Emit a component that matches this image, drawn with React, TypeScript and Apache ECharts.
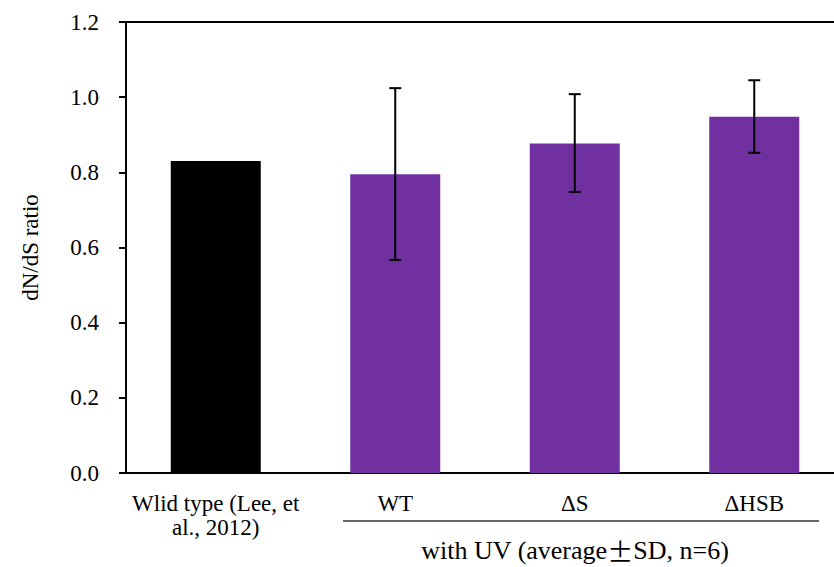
import React, { useEffect, useRef } from "react";
import * as echarts from "echarts";

const categories = ["Wlid type (Lee, et\nal., 2012)", "WT", "ΔS", "ΔHSB"];
const values = [0.83, 0.795, 0.877, 0.948];
const errLow = [null, 0.567, 0.748, 0.852];
const errHigh = [null, 1.024, 1.008, 1.045];
const barColors = ["#000000", "#7030A0", "#7030A0", "#7030A0"];
const yTicks = { min: 0, max: 1.2, interval: 0.2 };
const groupLabelParts = ["with UV (average", "±", "SD, n=6)"];
const yAxisName = "dN/dS ratio";

const FONT = "Liberation Serif";

export default function App() {
  const ref = useRef<HTMLDivElement>(null);
  useEffect(() => {
    if (!ref.current) return;
    const chart = echarts.init(ref.current, null, { renderer: "svg" });
    const errData = categories
      .map((_, i) => (errLow[i] == null ? null : [i, errLow[i], errHigh[i]]))
      .filter((d) => d != null);
    chart.setOption({
      animation: false,
      textStyle: { fontFamily: FONT },
      grid: {
        left: 126,
        top: 22,
        bottom: 94,
        right: -10,
        containLabel: false,
        outerBoundsMode: "none",
        show: true,
        borderColor: "#000",
        borderWidth: 2,
        backgroundColor: "transparent",
      },
      xAxis: {
        type: "category",
        data: categories,
        axisLine: { show: true, lineStyle: { color: "#000", width: 2 } },
        axisTick: { show: false },
        axisLabel: {
          color: "#000",
          fontFamily: FONT,
          fontSize: 23,
          lineHeight: 24,
          margin: 18,
          interval: 0,
        },
      },
      yAxis: {
        type: "value",
        min: yTicks.min,
        max: yTicks.max,
        interval: yTicks.interval,
        name: yAxisName,
        nameLocation: "middle",
        nameGap: 84,
        nameTextStyle: { color: "#000", fontFamily: FONT, fontSize: 23 },
        axisLine: { show: true, lineStyle: { color: "#000", width: 2 } },
        axisTick: { show: true, length: 7, lineStyle: { color: "#000", width: 2 } },
        splitLine: { show: false },
        axisLabel: {
          color: "#000",
          fontFamily: FONT,
          fontSize: 23,
          margin: 27,
          formatter: (v: number) => v.toFixed(1),
        },
      },
      series: [
        {
          type: "bar",
          barWidth: 90,
          data: values.map((v, i) => ({ value: v, itemStyle: { color: barColors[i] } })),
        },
        {
          type: "custom",
          data: errData,
          z: 10,
          renderItem: (params: any, api: any) => {
            const x = api.value(0);
            const lo = api.coord([x, api.value(1)]);
            const hi = api.coord([x, api.value(2)]);
            const cap = 6;
            const style = { stroke: "#000", lineWidth: 2 };
            return {
              type: "group",
              children: [
                { type: "line", shape: { x1: lo[0], y1: lo[1], x2: hi[0], y2: hi[1] }, style },
                { type: "line", shape: { x1: hi[0] - cap, y1: hi[1], x2: hi[0] + cap, y2: hi[1] }, style },
                { type: "line", shape: { x1: lo[0] - cap, y1: lo[1], x2: lo[0] + cap, y2: lo[1] }, style },
              ],
            };
          },
        },
      ],
      graphic: [
        {
          type: "line",
          shape: { x1: 343, y1: 521, x2: 819, y2: 521 },
          style: { stroke: "#333", lineWidth: 1.5 },
        },
        {
          type: "text",
          x: 575,
          y: 550,
          style: {
            text: `{a|${groupLabelParts[0]}}{b|${groupLabelParts[1]}}{a|${groupLabelParts[2]}}`,
            fill: "#000",
            fontFamily: FONT,
            fontSize: 26,
            align: "center",
            verticalAlign: "middle",
            rich: {
              a: { fontFamily: FONT, fontSize: 26, fill: "#000" },
              b: { fontFamily: "Noto Sans CJK SC", fontSize: 26, fill: "#000" },
            },
          },
        },
      ],
    });
    return () => chart.dispose();
  }, []);
  return <div ref={ref} style={{ width: 834, height: 567, position: "absolute", left: 0, top: 0 }} />;
}
